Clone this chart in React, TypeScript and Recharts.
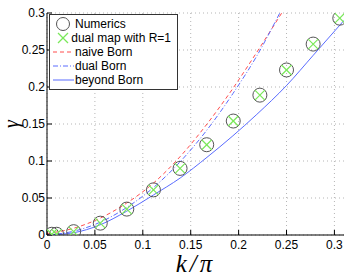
import { ComposedChart, Line, Scatter, XAxis, YAxis, CartesianGrid, Legend } from 'recharts';

const kTicks = [0, 0.05, 0.1, 0.15, 0.2, 0.25, 0.3];
const gTicks = [0, 0.05, 0.1, 0.15, 0.2, 0.25, 0.3];

const kNumerics = [0.005, 0.01, 0.0278, 0.0556, 0.0833, 0.1111, 0.1389, 0.1667, 0.1944, 0.2222, 0.25, 0.2778, 0.3056];
const gNumerics = [0.001, 0.001, 0.0045, 0.016, 0.035, 0.061, 0.09, 0.122, 0.154, 0.189, 0.223, 0.258, 0.293];
const gDualMap = [0.001, 0.001, 0.0045, 0.016, 0.035, 0.061, 0.09, 0.122, 0.154, 0.189, 0.223, 0.258, 0.293];

const kNaive = [0, 0.0275, 0.055, 0.083, 0.111, 0.139, 0.167, 0.194, 0.219, 0.245];
const gNaive = [0.002, 0.009, 0.0225, 0.043, 0.07, 0.106, 0.15, 0.198, 0.247, 0.3];

const kDual = [0, 0.0275, 0.055, 0.083, 0.111, 0.139, 0.167, 0.194, 0.219, 0.243];
const gDual = [0, 0.005, 0.017, 0.037, 0.064, 0.099, 0.142, 0.191, 0.242, 0.3];

const kBeyond = [0, 0.0275, 0.055, 0.083, 0.111, 0.139, 0.167, 0.194, 0.219, 0.25, 0.278, 0.31];
const gBeyond = [0, 0.003, 0.0135, 0.032, 0.054, 0.077, 0.105, 0.134, 0.163, 0.202, 0.243, 0.29];

const zip = (ks: number[], gs: number[]) => ks.map((k, i) => ({ k, g: gs[i] }));

const numerics = zip(kNumerics, gNumerics);
const dualMap = zip(kNumerics, gDualMap);
const naive = zip(kNaive, gNaive);
const dual = zip(kDual, gDual);
const beyond = zip(kBeyond, gBeyond);

const RED = '#ff4d4d';
const BLUE = '#5a6cff';
const GREEN = '#7ae85a';
const FONT = '"Liberation Sans", Arial, sans-serif';
const SERIF = '"Liberation Serif", "Times New Roman", serif';

const CircleMark = (p: any) => (
  <circle cx={p.cx} cy={p.cy} r={7} fill="none" stroke="#555" strokeWidth={1} />
);

const CrossMark = (p: any) => (
  <g stroke={GREEN} strokeWidth={1.2}>
    <line x1={p.cx - 5} y1={p.cy - 5} x2={p.cx + 5} y2={p.cy + 5} />
    <line x1={p.cx - 5} y1={p.cy + 5} x2={p.cx + 5} y2={p.cy - 5} />
  </g>
);

const legendItems = [
  { name: 'Numerics', icon: 'circle' },
  { name: 'dual map with R=1', icon: 'cross' },
  { name: 'naive Born', icon: 'dash' },
  { name: 'dual Born', icon: 'dashdot' },
  { name: 'beyond Born', icon: 'solid' },
];

function LegendIcon({ icon }: { icon: string }) {
  return (
    <svg width={24} height={14} style={{ display: 'block' }}>
      {icon === 'circle' && <circle cx={12} cy={7} r={6.5} fill="none" stroke="#555" />}
      {icon === 'cross' && (
        <g stroke={GREEN} strokeWidth={1.2}>
          <line x1={7} y1={2} x2={17} y2={12} />
          <line x1={7} y1={12} x2={17} y2={2} />
        </g>
      )}
      {icon === 'dash' && <line x1={2} y1={7} x2={23} y2={7} stroke={RED} strokeDasharray="4 3" />}
      {icon === 'dashdot' && <line x1={2} y1={7} x2={23} y2={7} stroke={BLUE} strokeDasharray="5 2 1 2" />}
      {icon === 'solid' && <line x1={2} y1={7} x2={23} y2={7} stroke={BLUE} />}
    </svg>
  );
}

const renderLegend = () => (
  <div
    style={{
      border: '1px solid #333',
      background: '#fff',
      padding: '2px 6px 2px 1px',
      fontFamily: FONT,
      fontSize: 12,
      lineHeight: '14px',
      width: 120,
    }}
  >
    {legendItems.map((item) => (
      <div key={item.name} style={{ display: 'flex', alignItems: 'center', height: 14 }}>
        <LegendIcon icon={item.icon} />
        <span style={{ whiteSpace: 'nowrap' }}>{item.name}</span>
      </div>
    ))}
  </div>
);

const xLabel = (props: any) => {
  const { x, y, width } = props.viewBox;
  return (
    <text
      x={x + width / 2}
      y={y + 37}
      textAnchor="middle"
      fontFamily={SERIF}
      fontStyle="italic"
      fontSize={25}
      letterSpacing={3}
    >
      k/π
    </text>
  );
};

const yLabel = (props: any) => {
  const { y, height } = props.viewBox;
  const cy = y + height / 2;
  return (
    <text
      x={18}
      y={cy}
      transform={`rotate(-90 18 ${cy})`}
      textAnchor="middle"
      fontFamily={SERIF}
      fontStyle="italic"
      fontSize={20}
    >
      γ
    </text>
  );
};

const tickStyle = { fontSize: 12, fill: '#000', fontFamily: FONT };
const fmt = (v: number) => String(v);

export default function App() {
  return (
    <div style={{ position: 'absolute', left: 0, top: 0, background: '#fff' }}>
      <ComposedChart width={353} height={279} margin={{ top: 13, right: 9, bottom: 0, left: 0 }}>
        <CartesianGrid stroke="#b5b5b5" strokeDasharray="1 3" horizontalValues={gTicks} verticalValues={kTicks} />
        <XAxis
          dataKey="k"
          type="number"
          domain={[0, 0.31]}
          ticks={kTicks}
          tickFormatter={fmt}
          allowDataOverflow
          height={44}
          stroke="#000"
          tick={tickStyle}
          tickSize={-5}
          tickMargin={10}
          label={{ content: xLabel }}
        />
        <XAxis
          xAxisId="top"
          orientation="top"
          dataKey="k"
          type="number"
          domain={[0, 0.31]}
          ticks={kTicks}
          tickFormatter={() => ''}
          height={0}
          stroke="#000"
          tickSize={-5}
        />
        <YAxis
          type="number"
          domain={[0, 0.3]}
          ticks={gTicks}
          tickFormatter={fmt}
          allowDataOverflow
          width={47}
          stroke="#000"
          tick={tickStyle}
          tickSize={-5}
          tickMargin={7}
          label={{ content: yLabel }}
        />
        <YAxis
          yAxisId="right"
          orientation="right"
          type="number"
          domain={[0, 0.3]}
          ticks={gTicks}
          tickFormatter={() => ''}
          width={0}
          stroke="#000"
          tickSize={-5}
        />
        <Legend
          content={renderLegend}
          layout="vertical"
          align="center"
          verticalAlign="middle"
          wrapperStyle={{ left: 49, top: 14, width: 'auto' }}
        />
        <Line data={naive} dataKey="g" type="monotone" stroke={RED} strokeDasharray="4 3" dot={false} isAnimationActive={false} />
        <Line data={dual} dataKey="g" type="monotone" stroke={BLUE} strokeDasharray="5 2 1 2" dot={false} isAnimationActive={false} />
        <Line data={beyond} dataKey="g" type="monotone" stroke={BLUE} dot={false} isAnimationActive={false} />
        <Scatter data={numerics} dataKey="g" shape={CircleMark} isAnimationActive={false} />
        <Scatter data={dualMap} dataKey="g" shape={CrossMark} isAnimationActive={false} />
      </ComposedChart>
    </div>
  );
}
